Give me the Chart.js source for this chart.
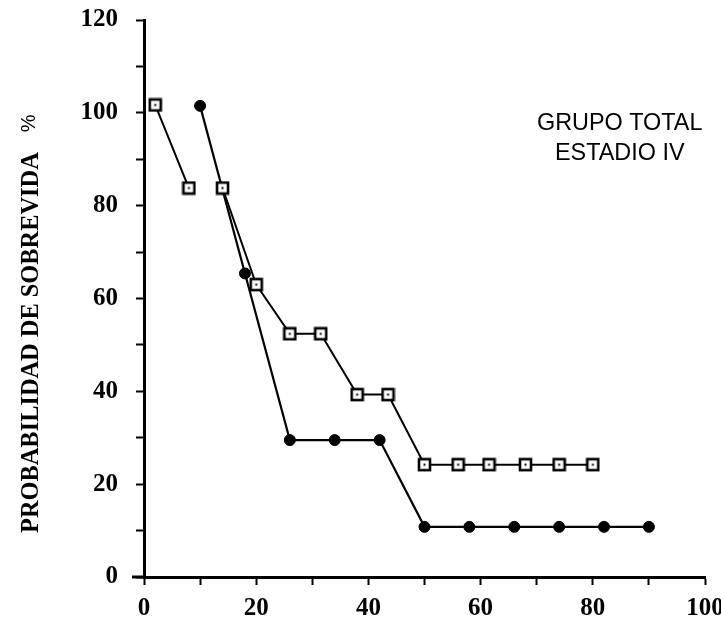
<!DOCTYPE html>
<html>
<head>
<meta charset="utf-8">
<script src="https://cdn.jsdelivr.net/npm/chart.js@4/dist/chart.umd.min.js"></script>
<style>
  html, body { margin: 0; padding: 0; background: #fff; }
  #wrap { width: 721px; height: 619px; position: relative; }
</style>
</head>
<body>
<div id="wrap"><canvas id="c" width="721" height="619"></canvas></div>
<script>
// Data
const squareX = [2, 8, 11, 14, 20, 26, 31.5, 38, 43.5, 50, 56, 61.5, 68, 74, 80];
const squareY = [101.7, 83.8, null, 83.8, 63, 52.4, 52.4, 39.3, 39.3, 24.2, 24.2, 24.2, 24.2, 24.2, 24.2];
const circleX = [10, 18, 26, 34, 42, 50, 58, 66, 74, 82, 90];
const circleY = [101.5, 65.4, 29.5, 29.5, 29.5, 10.8, 10.8, 10.8, 10.8, 10.8, 10.8];
const xTickLabels = [0, 20, 40, 60, 80, 100];
const yTickLabels = [0, 20, 40, 60, 80, 100, 120];
const yTitle = "PROBABILIDAD DE SOBREVIDA";
const yTitleUnit = "%";
const annotationLines = ["GRUPO TOTAL", "ESTADIO IV"];

const toPoints = (xs, ys) => xs.map((x, i) => ({ x: x, y: ys[i] }));

// square marker with a tiny center dot
function makeSquare() {
  const c = document.createElement('canvas');
  c.width = 15; c.height = 15;
  const g = c.getContext('2d');
  g.fillStyle = '#fff';
  g.fillRect(1.5, 1.5, 12, 12);
  g.strokeStyle = '#000';
  g.lineWidth = 2.6;
  g.strokeRect(2, 2, 11, 11);
  g.fillStyle = '#000';
  g.fillRect(6.5, 6.5, 2, 2);
  return c;
}

const textPlugin = {
  id: 'texts',
  afterDraw(chart) {
    const ctx = chart.ctx;
    const xs = chart.scales.x, ys = chart.scales.y;
    ctx.save();
    // x axis line extension to the left of the y axis
    const y0 = ys.getPixelForValue(0);
    ctx.strokeStyle = '#000';
    ctx.lineWidth = 3;
    ctx.beginPath();
    ctx.moveTo(xs.getPixelForValue(0) - 12, y0);
    ctx.lineTo(xs.getPixelForValue(0), y0);
    ctx.stroke();

    // y axis title (rotated)
    ctx.fillStyle = '#000';
    ctx.translate(31, 533);
    ctx.rotate(-Math.PI / 2);
    ctx.textBaseline = 'middle';
    ctx.textAlign = 'left';
    ctx.font = 'bold 24.4px "Liberation Serif"';
    ctx.fillText(yTitle, 0, 1);
    const w = ctx.measureText(yTitle).width;
    ctx.font = '20px "Liberation Sans"';
    ctx.fillText(yTitleUnit, w + 20, -2);
    ctx.restore();

    // annotation
    ctx.save();
    ctx.fillStyle = '#000';
    ctx.font = '23.4px "Liberation Sans"';
    ctx.textAlign = 'center';
    ctx.textBaseline = 'alphabetic';
    const cx = xs.getPixelForValue(84.8);
    ctx.fillText(annotationLines[0], cx, ys.getPixelForValue(96.3));
    ctx.fillText(annotationLines[1], cx, ys.getPixelForValue(89.8));
    ctx.restore();
  }
};

const tickFont = { family: '"Liberation Serif"', size: 25, weight: 'bold' };

new Chart(document.getElementById('c'), {
  type: 'scatter',
  data: {
    datasets: [
      {
        label: 'A',
        data: toPoints(squareX, squareY),
        showLine: true,
        spanGaps: false,
        borderColor: '#000',
        borderWidth: 2,
        pointStyle: makeSquare(),
        pointRadius: 7,
        tension: 0
      },
      {
        label: 'B',
        data: toPoints(circleX, circleY),
        showLine: true,
        borderColor: '#000',
        backgroundColor: '#000',
        borderWidth: 2.2,
        pointStyle: 'circle',
        pointRadius: 5.5,
        pointBorderWidth: 1,
        tension: 0
      }
    ]
  },
  options: {
    responsive: false,
    animation: false,
    devicePixelRatio: 1,
    layout: { padding: { left: 0, right: 16, top: 20, bottom: 0 } },
    plugins: { legend: { display: false }, tooltip: { enabled: false } },
    scales: {
      x: {
        type: 'linear',
        min: 0, max: 100,
        afterFit(s) { s.height = 42; s.paddingLeft = 0; s.paddingRight = 0; },
        border: { display: true, color: '#000', width: 3 },
        grid: { display: true, drawOnChartArea: false, drawTicks: true, tickLength: 8, tickColor: '#000', tickWidth: 2 },
        ticks: {
          stepSize: 10, autoSkip: false, maxRotation: 0, color: '#000', font: tickFont, padding: 9,
          callback: (v) => xTickLabels.includes(v) ? String(v) : ''
        }
      },
      y: {
        type: 'linear',
        min: 0, max: 120,
        afterFit(s) { s.width = 144; s.paddingTop = 0; s.paddingBottom = 0; },
        border: { display: true, color: '#000', width: 3 },
        grid: { display: true, drawOnChartArea: false, drawTicks: true, tickLength: 8, tickColor: '#000', tickWidth: 2 },
        ticks: {
          stepSize: 10, autoSkip: false, color: '#000', font: tickFont, padding: 18,
          callback: (v) => yTickLabels.includes(v) ? String(v) : ''
        }
      }
    }
  },
  plugins: [textPlugin]
});
</script>
</body>
</html>
